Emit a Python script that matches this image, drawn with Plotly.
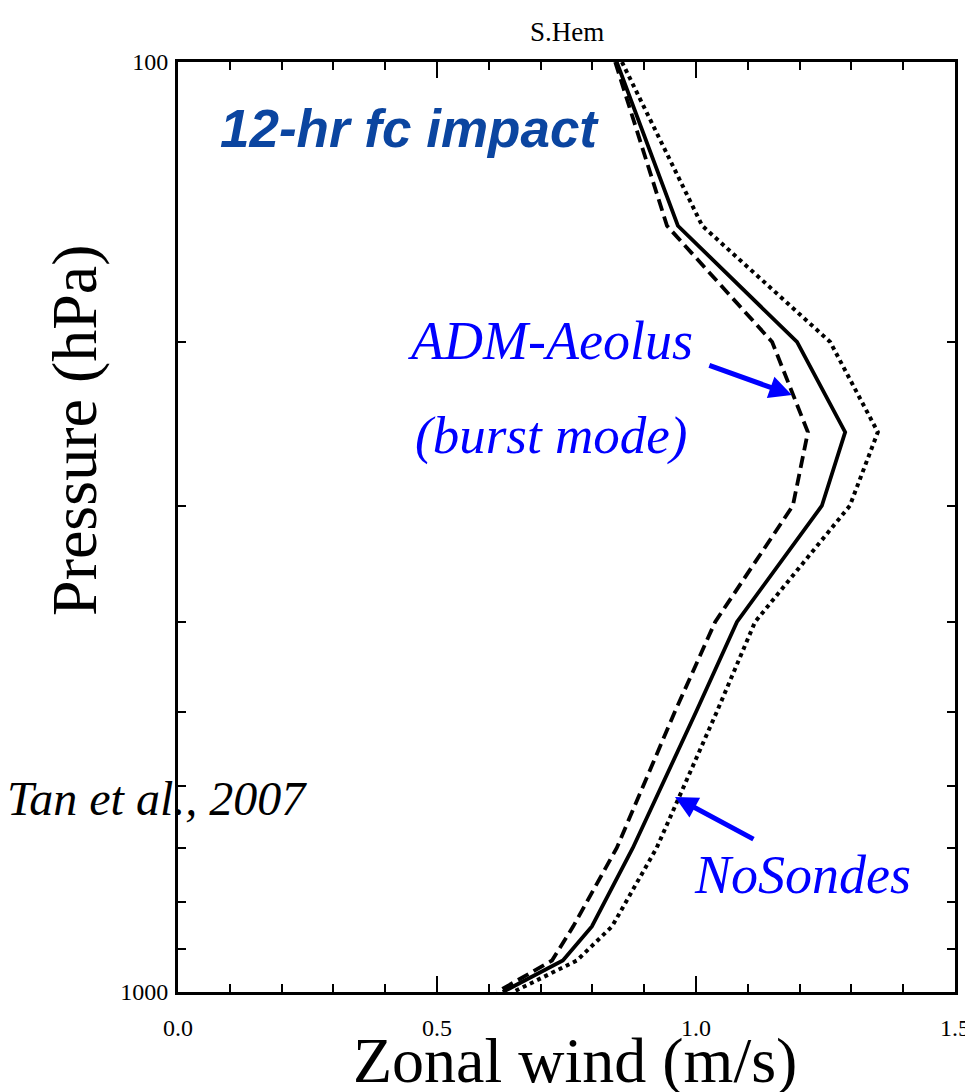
import plotly.graph_objects as go

# pressure levels (hPa) and zonal wind impact profiles (m/s), S.Hem
pressure = [100, 150, 200, 250, 300, 400, 500, 700, 850, 925, 1000]
control = [0.847, 0.965, 1.195, 1.288, 1.243, 1.079, 1.000, 0.878, 0.799, 0.743, 0.627]
aeolus = [0.844, 0.944, 1.147, 1.216, 1.187, 1.037, 0.959, 0.847, 0.763, 0.722, 0.616]
nosondes = [0.857, 1.012, 1.259, 1.351, 1.297, 1.114, 1.040, 0.924, 0.838, 0.770, 0.647]

y_ticks = [100, 1000]
y_minor = [200, 300, 400, 500, 600, 700, 800, 900]
x_ticks = [0.0, 0.5, 1.0, 1.5]
x_ticktext = ["0.0", "0.5", "1.0", "1.5"]

serif = "Liberation Serif"
blue = "#0000ff"

fig = go.Figure()
fig.add_trace(go.Scatter(x=control, y=pressure, mode="lines", name="Control",
                         line=dict(color="black", width=3.8)))
fig.add_trace(go.Scatter(x=aeolus, y=pressure, mode="lines", name="ADM-Aeolus",
                         line=dict(color="black", width=3.8, dash="12px,6px")))
fig.add_trace(go.Scatter(x=nosondes, y=pressure, mode="lines", name="NoSondes",
                         line=dict(color="black", width=4, dash="4px,4px")))

fig.update_xaxes(range=[0, 1.5], tickvals=x_ticks, ticktext=x_ticktext,
                 ticks="inside", ticklen=16, tickwidth=2, tickcolor="black",
                 minor=dict(dtick=0.1, ticks="inside", ticklen=8, tickwidth=2, tickcolor="black"),
                 showline=True, linewidth=3, linecolor="black", mirror="ticks",
                 showgrid=False, zeroline=False, ticklabelstandoff=12, automargin=False,
                 ticklabeloverflow="allow",
                 tickfont=dict(family=serif, size=24, color="black"))
fig.update_yaxes(type="log", range=[3, 2], tickvals=y_ticks, ticktext=["100", "1000"],
                 ticks="inside", ticklen=14, tickwidth=2, tickcolor="black",
                 minor=dict(tickmode="array", tickvals=y_minor, ticks="inside", ticklen=8,
                            tickwidth=2, tickcolor="black"),
                 showline=True, linewidth=3, linecolor="black", mirror="ticks",
                 showgrid=False, zeroline=False, ticklabelstandoff=2, automargin=False,
                 ticklabeloverflow="allow",
                 tickfont=dict(family=serif, size=24, color="black"))

def note(text, x, y, size, color="black", family=serif, **kw):
    fig.add_annotation(text=text, x=x, y=y, xref="paper", yref="paper",
                       xanchor="center", yanchor="middle", showarrow=False,
                       font=dict(family=family, size=size, color=color), **kw)

note("S.Hem", 0.5006, 1.032, 27)
note("<b><i>12-hr fc impact</i></b>", 0.298, 0.929, 53, color="#0b45a0",
     family="Liberation Sans")
note("<i>ADM-Aeolus</i>", 0.479, 0.700, 54, color=blue)
note("<i>(burst mode)</i>", 0.480, 0.598, 53, color=blue)
note("<i>NoSondes</i>", 0.804, 0.126, 54, color=blue)
note("<i>Tan et al., 2007</i>", -0.027, 0.208, 48)
note("Zonal wind (m/s)", 0.511, -0.074, 64)
note("Pressure (hPa)", -0.133, 0.604, 64, textangle=-90)

# arrows pointing at the dashed and dotted profiles
fig.add_annotation(x=0.790, y=0.642, xref="paper", yref="paper", ax=-84, ay=-30,
                   showarrow=True, arrowhead=2, arrowsize=0.9, arrowwidth=5,
                   arrowcolor=blue, text="")
fig.add_annotation(x=0.6396, y=0.2097, xref="paper", yref="paper", ax=80, ay=43,
                   showarrow=True, arrowhead=2, arrowsize=0.9, arrowwidth=5,
                   arrowcolor=blue, text="")

# page body adds 8px, so the figure is shifted by that much
fig.update_layout(width=965, height=1084, showlegend=False,
                  margin=dict(l=170, r=18, t=54, b=100),
                  plot_bgcolor="white", paper_bgcolor="white")

fig.write_html("out.html")
